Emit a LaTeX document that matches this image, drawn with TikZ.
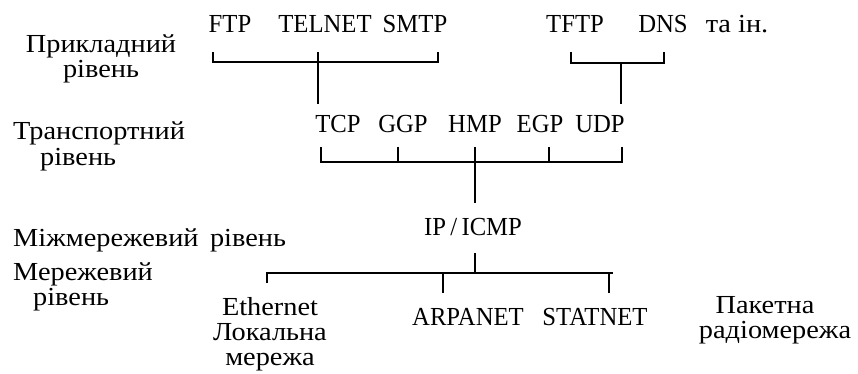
\documentclass[tikz,border=0pt]{standalone}
\usepackage{fontspec}
\setmainfont{Liberation Serif}[FakeStretch=0.95]
\newfontfamily\widefont{Liberation Serif}[FakeStretch=1.09]
% fixed line distance inside multi-line captions
\newcommand\tightlns{\lineskiplimit=-100pt\relax}
\begin{document}
\begin{tikzpicture}[x=1pt,y=-1pt,
  lbl/.style={font=\fontsize{26}{30}\selectfont, inner sep=0pt, anchor=base},
  wlbl/.style={lbl, font=\fontsize{26}{25}\selectfont\widefont\tightlns},
  link/.style={line width=1.6pt, line join=miter}]
\fill[white] (0,0) rectangle (858,374);
\useasboundingbox (0,0) rectangle (858,374);

% layer captions (multi-line nodes sit on the baseline of their last line)
\node[wlbl, align=center] (app) at (101,78) {Прикладний\\рівень};
\node[wlbl, align=left, anchor=base west] (tr) at (13,165) {Транспортний\\\hspace*{27pt}рівень};
\node[wlbl, anchor=base west] (inet) at (13,246) {Міжмережевий\, рівень};
\node[wlbl, align=left, anchor=base west] (net) at (13,305) {Мережевий\\\hspace*{20pt}рівень};

% application protocols
\node[lbl] (ftp) at (230,33) {FTP};
\node[lbl] (telnet) at (325,33) {TELNET};
\node[lbl] (smtp) at (415,33) {SMTP};
\node[lbl] (tftp) at (575,33) {TFTP};
\node[lbl] (dns) at (663,33) {DNS};
\node[wlbl] (etc) at (737,33) {та ін.};

% transport protocols
\node[lbl] (tcp) at (338,133) {TCP};
\node[lbl] (ggp) at (403,133) {GGP};
\node[lbl] (hmp) at (475,133) {HMP};
\node[lbl] (egp) at (540,133) {EGP};
\node[lbl] (udp) at (600,133) {UDP};

% internet layer
\node[lbl] (ip) at (473,235) {IP\,/\,ICMP};

% network layer
\node[wlbl, align=center] (eth) at (270,365) {Ethernet\\Локальна\\мережа};
\node[lbl] (arpa) at (468,325) {ARPANET};
\node[lbl] (stat) at (595,325) {STATNET};
\node[wlbl, align=center] (radio) at (775,338) {Пакетна\hspace*{20pt}\\радіомережа};

% junction points
\coordinate (ftpT) at (213,52);
\coordinate (smtpT) at (438,52);
\coordinate (telT) at (318,52);
\coordinate (b1L) at (213,62);
\coordinate (b1R) at (438,62);
\coordinate (tcpT) at (318,104);

\coordinate (tftpT) at (571,52);
\coordinate (dnsT) at (664,52);
\coordinate (b2L) at (571,63);
\coordinate (b2R) at (664,63);
\coordinate (b2M) at (621,63);
\coordinate (udpT) at (621,104);

\coordinate (tcpB) at (321,147);
\coordinate (ggpB) at (398,147);
\coordinate (hmpB) at (475,147);
\coordinate (egpB) at (549,147);
\coordinate (udpB) at (622,147);
\coordinate (b3L) at (321,162);
\coordinate (b3R) at (622,162);
\coordinate (ipT) at (475,203);

\coordinate (ipB) at (475,253);
\coordinate (b4L) at (267,273);
\coordinate (b4R) at (613,273);
\coordinate (ethT) at (267,283);
\coordinate (arpaT) at (443,293);
\coordinate (statT) at (609,293);

% application -> transport
\draw[link] (ftpT) -- (b1L) -- (b1R) -- (smtpT);
\draw[link] (telT) -- (tcpT);
\draw[link] (tftpT) -- (b2L) -- (b2R) -- (dnsT);
\draw[link] (b2M) -- (udpT);

% transport -> internet
\draw[link] (tcpB) -- (b3L) -- (b3R) -- (udpB);
\draw[link] (ggpB) -- (ggpB |- b3L);
\draw[link] (egpB) -- (egpB |- b3L);
\draw[link] (hmpB) -- (ipT);

% internet -> network
\draw[link] (ipB) -- (ipB |- b4L);
\draw[link] (ethT) -- (b4L) -- (b4R);
\draw[link] (arpaT) -- (arpaT |- b4L);
\draw[link] (statT) -- (statT |- b4L);
\end{tikzpicture}
\end{document}
